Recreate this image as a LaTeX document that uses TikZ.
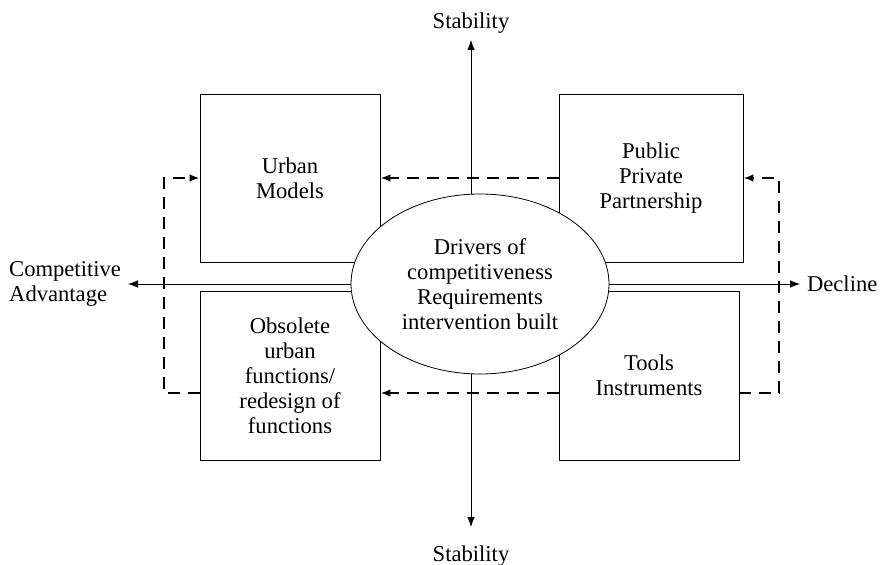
\documentclass[tikz,border=0pt]{standalone}
\usepackage{fontspec}
\setmainfont{Liberation Serif}
\usetikzlibrary{arrows.meta,shapes,positioning}

\begin{document}
\begin{tikzpicture}[x=0.5pt, y=-0.5pt, >={Latex[length=5pt,width=3.8pt]},
  every node/.style={font=\fontsize{11.3}{12.5}\selectfont},
  box/.style={draw, fill=white, minimum width=90pt, minimum height=84pt, align=center},
  loop/.style={->, dashed, line width=1pt, dash pattern=on 6pt off 4pt}]
\useasboundingbox (0,0) rectangle (886,565);
% axes
\coordinate (N) at (471,40);
\coordinate (S) at (471,527);
\coordinate (W) at (128,284);
\coordinate (E) at (800,284);
\draw[<->] (S) -- (N);
\draw[<->] (W) -- (E);
\node (st) [above=0pt of N] {Stability};
\node (sb) [below=6pt of S] {Stability};
\node (ca) [left=0pt of W, align=left] {Competitive\\Advantage};
\node (dc) [right=0pt of E] {Decline};
% quadrants
\node (um) [box] at (290,178) {Urban\\Models};
\node (ppp) [box, minimum width=92pt] at (651,178) {Public\\Private\\Partnership};
\node (obs) [box, minimum height=84.5pt] at (290,375.5) {Obsolete\\urban\\functions/\\redesign of\\functions};
\node (tl) [box, minimum height=84.5pt] at (649,375.5) {Tools\\Instruments};
\node (dr) [ellipse, draw, fill=white, minimum width=129pt, minimum height=90pt, inner sep=0pt, align=center] at (480,284) {Drivers of\\competitiveness\\Requirements\\intervention built};
% dashed loops
\draw[loop] ([yshift=-8.75pt]obs.west) -- ++(-18pt,0) |- (um.west);
\draw[loop] (ppp.west) -- (um.east);
\draw[loop] ([yshift=-8.75pt]tl.west) -- ([yshift=-8.75pt]obs.east);
\draw[loop] ([yshift=-8.75pt]tl.east) -- ++(20pt,0) |- (ppp.east);
\end{tikzpicture}
\end{document}
